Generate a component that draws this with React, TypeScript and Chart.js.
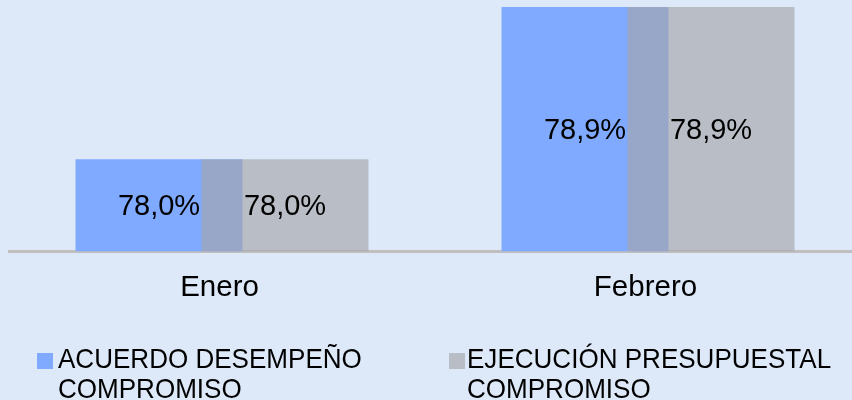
import React, { useEffect, useRef } from "react";
import { Chart, registerables } from "chart.js";

Chart.register(...registerables);

const CATEGORIES = ["Enero", "Febrero"];
const SERIES_NAMES = [
  ["ACUERDO DESEMPEÑO", "COMPROMISO"],
  ["EJECUCIÓN PRESUPUESTAL", "COMPROMISO"],
];
const ACUERDO_VALUES = [78.0, 78.9];
const EJECUCION_VALUES = [78.0, 78.9];
const Y_MIN = 77.455;
const Y_MAX = 78.941;

const BG = "#dde9f9";
const BLUE = "#7faaff";
const GRAY = "rgba(166,166,169,0.65)";
const FONT = '"Liberation Sans", Arial, sans-serif';

const fmt = (v: number) => v.toFixed(1).replace(".", ",") + "%";

const drawOrderPlugin = {
  id: "drawOrder",
  beforeDatasetsDraw(chart: any) {
    const ctx = chart.ctx;
    const a = chart.chartArea;
    ctx.save();
    ctx.beginPath();
    ctx.rect(a.left, a.top, a.right - a.left, a.bottom - a.top);
    ctx.clip();
    // draw first dataset underneath, second on top (overlap blend)
    for (let i = 0; i < chart.data.datasets.length; i++) {
      const meta = chart.getDatasetMeta(i);
      if (meta.visible !== false) meta.controller.draw();
    }
    ctx.restore();
    return false;
  },
};

const labelPlugin = {
  id: "barLabels",
  afterDraw(chart: any) {
    const ctx = chart.ctx;
    ctx.save();
    ctx.font = `29px ${FONT}`;
    ctx.fillStyle = "#000";
    ctx.textAlign = "center";
    ctx.textBaseline = "middle";
    chart.data.datasets.forEach((ds: any, i: number) => {
      const meta = chart.getDatasetMeta(i);
      meta.data.forEach((el: any, j: number) => {
        const y = (el.y + el.base) / 2 + 2;
        ctx.fillText(fmt(ds.data[j]), el.x, y);
      });
    });
    ctx.restore();
  },
};

export default function App() {
  const ref = useRef<HTMLCanvasElement>(null);
  useEffect(() => {
    const canvas = ref.current!;
    const chart = new Chart(canvas, {
      type: "bar",
      data: {
        labels: CATEGORIES,
        datasets: [
          {
            label: SERIES_NAMES[0].join(" "),
            data: ACUERDO_VALUES,
            backgroundColor: BLUE,
            borderWidth: 0,
            base: Y_MIN,
          },
          {
            label: SERIES_NAMES[1].join(" "),
            data: EJECUCION_VALUES,
            backgroundColor: GRAY,
            borderWidth: 0,
            base: Y_MIN,
          },
        ],
      },
      options: {
        animation: false,
        responsive: false,
        devicePixelRatio: 1,
        datasets: {
          bar: { categoryPercentage: 0.5915, barPercentage: 1.325 },
        },
        layout: { padding: { left: 9, right: 1, top: 0, bottom: 75.2 } },
        plugins: { legend: { display: false }, tooltip: { enabled: false } },
        scales: {
          x: {
            z: 1,
            grid: { display: false, drawTicks: false },
            border: { display: true, color: "#bfbfbf", width: 3 },
            ticks: {
              font: { size: 29.5, family: FONT },
              color: "#000",
              padding: 19,
              labelOffset: -2.5,
            },
          },
          y: { display: false, min: Y_MIN, max: Y_MAX },
        },
      },
      plugins: [drawOrderPlugin, labelPlugin],
    });
    return () => chart.destroy();
  }, []);

  const legendText = {
    position: "absolute" as const,
    font: `28px ${FONT}`,
    lineHeight: "30px",
    color: "#000",
    whiteSpace: "nowrap" as const,
    transform: "scaleX(0.93)",
    transformOrigin: "left top",
  };

  return (
    <div style={{ position: "fixed", left: 0, top: 0, width: 852, height: 400, background: BG, overflow: "hidden" }}>
      <canvas ref={ref} width={862} height={400} style={{ position: "absolute", left: 0, top: 0 }} />
      <div style={{ position: "absolute", left: 37, top: 353, width: 16, height: 16, background: BLUE }} />
      <div style={{ ...legendText, left: 58, top: 343.6 }}>
        {SERIES_NAMES[0][0]}
        <br />
        {SERIES_NAMES[0][1]}
      </div>
      <div style={{ position: "absolute", left: 449, top: 353, width: 16, height: 16, background: GRAY }} />
      <div style={{ ...legendText, left: 467, top: 343.6 }}>
        {SERIES_NAMES[1][0]}
        <br />
        {SERIES_NAMES[1][1]}
      </div>
    </div>
  );
}
